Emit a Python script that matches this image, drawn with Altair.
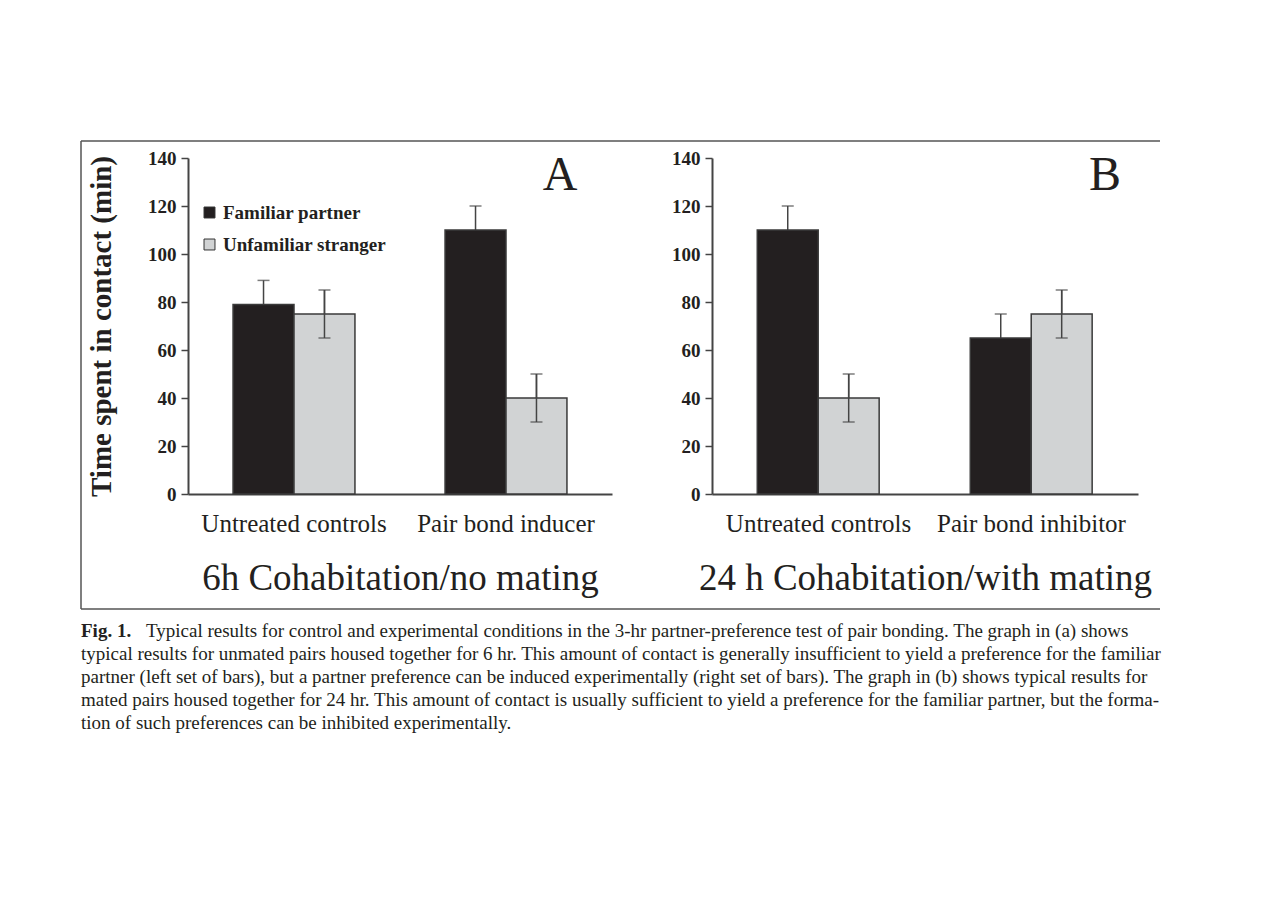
import altair as alt
import pandas as pd

# ---------------- data ----------------
series = ["Familiar partner", "Unfamiliar stranger"]

cond_A = ["Untreated controls", "Pair bond inducer"]
fam_A = [79, 110]
unf_A = [75, 40]
err_fam_A = [10, 10]
err_unf_A = [10, 10]

cond_B = ["Untreated controls", "Pair bond inhibitor"]
fam_B = [110, 65]
unf_B = [40, 75]
err_fam_B = [10, 10]
err_unf_B = [10, 10]

y_ticks = [0, 20, 40, 60, 80, 100, 120, 140]

caption_first_bold = "Fig. 1."
caption_lines = [
    "Typical results for control and experimental conditions in the 3-hr partner-preference test of pair bonding. The graph in (a) shows",
    "typical results for unmated pairs housed together for 6 hr. This amount of contact is generally insufficient to yield a preference for the familiar",
    "partner (left set of bars), but a partner preference can be induced experimentally (right set of bars). The graph in (b) shows typical results for",
    "mated pairs housed together for 24 hr. This amount of contact is usually sufficient to yield a preference for the familiar partner, but the forma-",
    "tion of such preferences can be inhibited experimentally.",
]

SERIF = "Liberation Serif"
INK = "#231f20"
GRAY = "#d1d3d4"
AXIS = "#444444"


def table(conds, fam, unf, efam, eunf):
    rows = []
    for c, v, e in zip(conds, fam, efam):
        rows.append({"cond": c, "series": series[0], "value": v, "lo": v - e, "hi": v + e})
    for c, v, e in zip(conds, unf, eunf):
        rows.append({"cond": c, "series": series[1], "value": v, "lo": v - e, "hi": v + e})
    return pd.DataFrame(rows)


def panel(df, conds, width, subtitle, letter, letter_x, show_title, show_legend, frame):
    base = alt.Chart(df)
    xenc = alt.X(
        "cond:N",
        sort=conds,
        scale=alt.Scale(paddingInner=0.425, paddingOuter=0.2125),
        axis=alt.Axis(
            title=subtitle,
            titleFont=SERIF, titleFontSize=37, titleFontWeight="normal",
            titleColor=INK, titlePadding=24,
            labelFont=SERIF, labelFontSize=25, labelColor=INK, labelLimit=0,
            labelAngle=0, labelPadding=17, ticks=False,
            domainColor=AXIS, domainWidth=2,
        ),
    )
    yenc = alt.Y(
        "value:Q",
        scale=alt.Scale(domain=[0, 140], nice=False),
        axis=alt.Axis(
            values=y_ticks,
            title="Time spent in contact (min)" if show_title else None,
            titleFont=SERIF, titleFontSize=29, titleFontWeight="bold",
            titleColor=INK, titlePadding=31,
            labelFont=SERIF, labelFontSize=19, labelFontWeight="bold",
            labelColor=INK, labelPadding=5,
            tickSize=7, tickColor=AXIS, tickWidth=1.5,
            domainColor=AXIS, domainWidth=2, grid=False,
        ),
    )
    xoff = alt.XOffset("series:N", sort=series, scale=alt.Scale(paddingInner=0, paddingOuter=0))
    legend = (
        alt.Legend(
            title=None, orient="none", legendX=12, legendY=45,
            symbolType="square", symbolSize=120, symbolStrokeColor="#333333",
            symbolStrokeWidth=1, labelFont=SERIF, labelFontSize=19,
            labelFontWeight="bold", labelColor=INK, labelLimit=0,
            rowPadding=12, labelOffset=4,
        )
        if show_legend
        else None
    )
    color = alt.Color("series:N", sort=series,
                      scale=alt.Scale(domain=series, range=[INK, GRAY]), legend=legend)

    err_back = base.mark_rule(color=AXIS, strokeWidth=1.5).encode(
        x=xenc, xOffset=xoff, y=alt.Y("lo:Q"), y2="hi:Q")
    bars = base.mark_bar(stroke="#3a3a3a", strokeWidth=1.5).encode(
        x=xenc, xOffset=xoff, y=yenc, color=color)
    unf = base.transform_filter(alt.datum.series == series[1])
    err_front = unf.mark_rule(color=AXIS, strokeWidth=1.5).encode(
        x=xenc, xOffset=xoff, y=alt.Y("lo:Q"), y2="hi:Q")
    cap_hi = base.mark_tick(color=AXIS, thickness=1.5, size=12).encode(
        x=xenc, xOffset=xoff, y=alt.Y("hi:Q"))
    cap_lo = unf.mark_tick(color=AXIS, thickness=1.5, size=12).encode(
        x=xenc, xOffset=xoff, y=alt.Y("lo:Q"))

    one = alt.Chart(alt.Data(values=[{"t": letter}]))
    lab = one.mark_text(font=SERIF, fontSize=48, color=INK, align="center",
                        baseline="middle").encode(
        text="t:N", x=alt.value(letter_x), y=alt.value(18))

    layers = [err_back, bars, err_front, cap_hi, cap_lo, lab]
    if frame:
        fr = alt.Chart(alt.Data(values=[{"k": 0}]))
        style = dict(color="#555555", strokeWidth=1.5)
        layers += [
            fr.mark_rule(**style).encode(x=alt.value(-107), x2=alt.value(972), y=alt.value(-17)),
            fr.mark_rule(**style).encode(x=alt.value(-107), x2=alt.value(972), y=alt.value(451)),
            fr.mark_rule(**style).encode(x=alt.value(-107), y=alt.value(-17), y2=alt.value(451)),
        ]
    return alt.layer(*layers).properties(width=width, height=336)


A = panel(table(cond_A, fam_A, unf_A, err_fam_A, err_unf_A), cond_A, 424,
          "6h Cohabitation/no mating", "A", 372, True, True, True)
B = panel(table(cond_B, fam_B, unf_B, err_fam_B, err_unf_B), cond_B, 426,
          "24 h Cohabitation/with mating", "B", 393, False, False, False)

top = alt.hconcat(A, B, spacing=100, bounds="flush").resolve_scale(
    x="independent", color="independent")

CAP_FS = 19
cap_df = pd.DataFrame({"line": list(range(len(caption_lines))), "text": caption_lines})
cap_base = alt.Chart(cap_df)
ycap = alt.Y("line:O", axis=None, scale=alt.Scale(paddingInner=0, paddingOuter=0))
cap_first = cap_base.transform_filter(alt.datum.line == 0).mark_text(
    font=SERIF, fontSize=CAP_FS, color=INK, align="left", baseline="middle", dx=65
).encode(text="text:N", y=ycap, x=alt.value(-107))
cap_rest = cap_base.transform_filter(alt.datum.line > 0).mark_text(
    font=SERIF, fontSize=CAP_FS, color=INK, align="left", baseline="middle"
).encode(text="text:N", y=ycap, x=alt.value(-107))
cap_bold = alt.Chart(alt.Data(values=[{"line": 0, "text": caption_first_bold}])).mark_text(
    font=SERIF, fontSize=CAP_FS, fontWeight="bold", color=INK, align="left", baseline="middle"
).encode(text="text:N", y=ycap, x=alt.value(-107))
caption = alt.layer(cap_rest, cap_first, cap_bold).properties(width=424, height=115)

chart = alt.vconcat(top, caption, spacing=461, bounds="flush").properties(
    padding={"top": 132, "left": 72, "right": 5, "bottom": 5}
).configure(background="white").configure_view(strokeWidth=0, stroke="transparent")

chart.save("out.html", embed_options={"renderer": "svg", "actions": False})
